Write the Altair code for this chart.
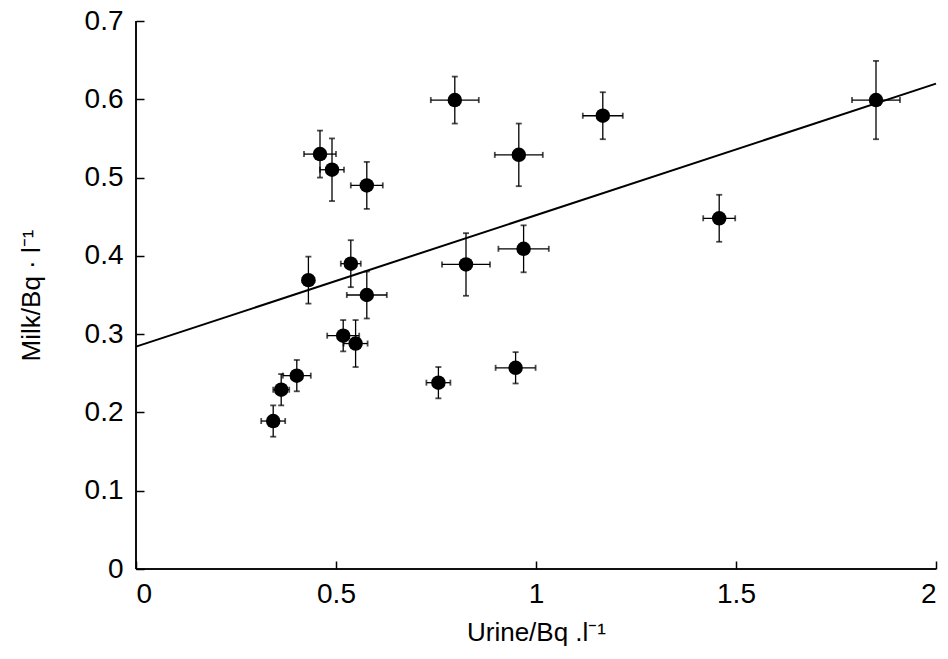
import altair as alt
import pandas as pd

# Measured data (Urine vs Milk, Bq/l) with error half-widths
urine = [0.46, 0.49, 0.577, 0.537, 0.431, 0.577, 0.518, 0.549, 0.402, 0.363,
         0.343, 0.797, 0.957, 1.167, 0.825, 0.969, 0.756, 0.949, 1.458, 1.850]
milk = [0.53, 0.51, 0.49, 0.39, 0.369, 0.35, 0.298, 0.288, 0.247, 0.229,
        0.189, 0.599, 0.529, 0.579, 0.389, 0.409, 0.238, 0.257, 0.448, 0.599]
urine_err = [0.04, 0.03, 0.04, 0.025, 0.015, 0.05, 0.04, 0.03, 0.035, 0.02,
             0.03, 0.06, 0.06, 0.05, 0.06, 0.063, 0.03, 0.05, 0.04, 0.06]
milk_err = [0.03, 0.04, 0.03, 0.03, 0.03, 0.03, 0.02, 0.03, 0.02, 0.02,
            0.02, 0.03, 0.04, 0.03, 0.04, 0.03, 0.02, 0.02, 0.03, 0.05]

# Regression line end points
fit_x = [0.0, 2.0]
fit_y = [0.284, 0.620]

x_ticks = [0, 0.5, 1, 1.5, 2]
y_ticks = [0, 0.1, 0.2, 0.3, 0.4, 0.5, 0.6, 0.7]

df = pd.DataFrame({"u": urine, "m": milk, "ue": urine_err, "me": milk_err})
df["u_lo"] = df.u - df.ue
df["u_hi"] = df.u + df.ue
df["m_lo"] = df.m - df.me
df["m_hi"] = df.m + df.me
fit = pd.DataFrame({"u": fit_x, "m": fit_y})

FONT = "Liberation Sans"

xscale = alt.Scale(domain=[0, 2], nice=False)
yscale = alt.Scale(domain=[0, 0.7], nice=False)

xaxis = alt.Axis(values=x_ticks, format="~g", title="Urine/Bq .l\u207b\u00b9",
                 grid=False, domain=False, offset=-8, tickSize=8, tickWidth=1.5,
                 tickColor="black", labelColor="black", labelFontSize=28,
                 labelFont=FONT, labelPadding=11, titleFont=FONT,
                 titleFontSize=26, titleFontWeight="normal", titleColor="black",
                 titlePadding=11)
yaxis = alt.Axis(values=y_ticks, format="~g", title="Milk/Bq \u00b7 l\u207b\u00b9",
                 grid=False, domain=False, offset=-8, tickSize=8, tickWidth=1.5,
                 tickColor="black", labelColor="black", labelFontSize=28,
                 labelFont=FONT, labelPadding=13, titleFont=FONT,
                 titleFontSize=26, titleFontWeight="normal", titleColor="black",
                 titlePadding=40)

base = alt.Chart(df)

points = base.mark_circle(color="black", opacity=1, size=210).encode(
    x=alt.X("u:Q", scale=xscale, axis=xaxis),
    y=alt.Y("m:Q", scale=yscale, axis=yaxis),
)
vbars = base.mark_rule(color="black", strokeWidth=1.3).encode(
    x="u:Q", y="m_lo:Q", y2="m_hi:Q")
hbars = base.mark_rule(color="black", strokeWidth=1.3).encode(
    y="m:Q", x="u_lo:Q", x2="u_hi:Q")
cap_top = base.mark_tick(color="black", orient="horizontal", size=6, thickness=1.8).encode(
    x="u:Q", y="m_hi:Q")
cap_bot = base.mark_tick(color="black", orient="horizontal", size=6, thickness=1.8).encode(
    x="u:Q", y="m_lo:Q")
cap_l = base.mark_tick(color="black", orient="vertical", size=6, thickness=1.8).encode(
    x="u_lo:Q", y="m:Q")
cap_r = base.mark_tick(color="black", orient="vertical", size=6, thickness=1.8).encode(
    x="u_hi:Q", y="m:Q")

line = alt.Chart(fit).mark_line(color="black", strokeWidth=2).encode(
    x="u:Q", y="m:Q")

frame_y = alt.Chart(fit).mark_rule(color="black", strokeWidth=1.5).encode(
    x=alt.datum(0))
frame_x = alt.Chart(fit).mark_rule(color="black", strokeWidth=1.5).encode(
    y=alt.datum(0))

chart = alt.layer(points, vbars, hbars, cap_top, cap_bot, cap_l, cap_r, line,
                  frame_y, frame_x).properties(
    width=800, height=548,
    autosize=alt.AutoSizeParams(type="none"),
    padding={"left": 136, "top": 21, "right": 12, "bottom": 90},
    background="white",
).configure_view(stroke=None)

chart.save("out.html", embed_options={"renderer": "svg", "actions": False})
